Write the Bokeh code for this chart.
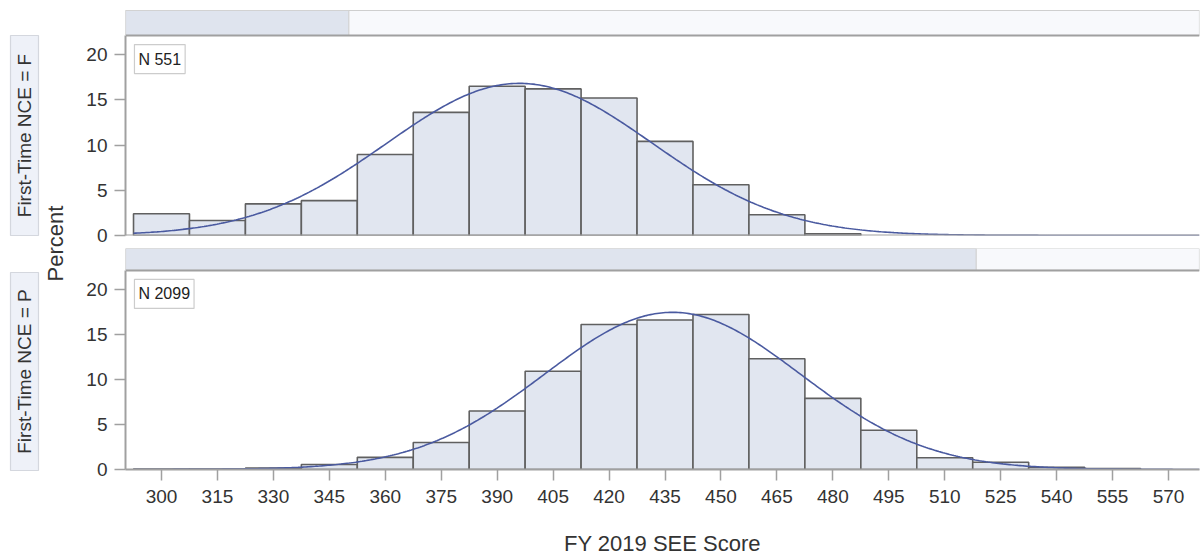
import numpy as np
from bokeh.plotting import figure
from bokeh.layouts import row, column
from bokeh.models import Range1d, FixedTicker, Label, BoxAnnotation, Span
from bokeh.embed import file_html
from bokeh.resources import INLINE
from bokeh.core.properties import value

# ---------------- data ----------------
bin_centers = [300, 315, 330, 345, 360, 375, 390, 405, 420, 435, 450, 465,
               480, 495, 510, 525, 540, 555, 570]
pct_F = [2.4, 1.65, 3.5, 3.85, 8.95, 13.6, 16.5, 16.2, 15.2, 10.4, 5.6, 2.3,
         0.2, 0, 0, 0, 0, 0, 0]
pct_P = [0.05, 0.05, 0.15, 0.55, 1.35, 3.0, 6.5, 10.9, 16.1, 16.6, 17.2, 12.3,
         7.9, 4.35, 1.3, 0.8, 0.25, 0.1, 0.0]
bin_width = 15
n_F, n_P = 551, 2099
mu_F, sd_F = 396.0, 35.6
mu_P, sd_P = 437.0, 34.3
row_labels = ["First-Time NCE = F", "First-Time NCE = P"]
inset_labels = ["N 551", "N 2099"]
x_ticks = list(range(300, 571, 15))
y_ticks = [0, 5, 10, 15, 20]
x_title = "FY 2019 SEE Score"
y_title = "Percent"

# ---------------- style / layout ----------------
FONT = "Liberation Sans"
W, H = 1200, 558
LEFT_W = 70
PW = W - LEFT_W
X0, X1 = 290.35, 578.3
PX_PER_UNIT = 9.05
PANEL_TOP = 22.1
BAR_FILL = "#e1e6f0"
BAR_LINE = "#606060"
CURVE = "#4a5aa0"
FRAME = "#a0a0a0"
TXT = "#333333"
total_n = n_F + n_P

# (height, border_top, frame_height, border_bottom) of each panel figure
P1_GEOM = (248, 9, 226, 13)
P2_GEOM = (310, 0, 222, 88)


def make_panel(pct, n, mu, sd, inset, first):
    height, btop, fh, bbot = P1_GEOM if first else P2_GEOM
    y_end = fh / PX_PER_UNIT
    header_top = y_end - (1.0 if first else 0.0) / PX_PER_UNIT
    p = figure(width=PW, height=height,
               x_range=Range1d(X0, X1), y_range=Range1d(0, y_end),
               output_backend="svg", toolbar_location=None, title=None,
               x_axis_location=None if first else "below",
               y_axis_location="left",
               min_border_left=55, min_border_right=1,
               min_border_top=btop, min_border_bottom=bbot,
               outline_line_color=None,
               background_fill_color="white", border_fill_color="white")
    p.grid.visible = False

    # bars
    c = np.array(bin_centers, dtype=float)
    v = np.array(pct, dtype=float)
    m = v > 0
    p.quad(left=c[m] - bin_width / 2, right=c[m] + bin_width / 2,
           bottom=0, top=v[m], fill_color=BAR_FILL, line_color=BAR_LINE,
           line_width=1.6)

    # normal density curve (percent per bin)
    xs = np.linspace(292.5, X1, 500)
    ys = 100 * bin_width * np.exp(-0.5 * ((xs - mu) / sd) ** 2) / (sd * np.sqrt(2 * np.pi))
    p.line(xs, ys, line_color=CURVE, line_width=1.6)

    # header proportion bar
    frac = n / total_n
    xf = X0 + frac * (X1 - X0)
    p.add_layout(BoxAnnotation(left=X0, right=X1, bottom=PANEL_TOP, top=header_top,
                               fill_color="#f8f9fc", fill_alpha=1,
                               line_color="#cfcfcf", line_alpha=1, line_width=1.2))
    p.add_layout(BoxAnnotation(left=X0, right=xf, bottom=PANEL_TOP, top=header_top,
                               fill_color="#dfe4ee", fill_alpha=1,
                               line_color="#d2d2d2", line_alpha=1, line_width=1.2))
    # panel frame lines
    p.add_layout(Span(location=PANEL_TOP, dimension="width", line_color=FRAME,
                      line_width=2))
    if first:
        p.add_layout(Span(location=0, dimension="width", line_color=FRAME,
                          line_width=2))

    # inset
    p.add_layout(Label(x=X0 + 2.4, y=21.1, text=inset, text_font=FONT,
                       text_font_size="16px", text_color="#222222",
                       text_align="left", text_baseline="top",
                       padding=(4, 6), border_line_color="#cccccc",
                       border_line_width=1.2,
                       background_fill_color="white"))

    ya = p.yaxis[0]
    ya.ticker = FixedTicker(ticks=y_ticks)
    ya.bounds = (0, PANEL_TOP)
    ya.axis_line_color = FRAME
    ya.axis_line_width = 2
    ya.major_tick_line_color = FRAME
    ya.major_tick_line_width = 1.5
    ya.major_tick_out = 11
    ya.major_tick_in = 0
    ya.minor_tick_out = 0
    ya.minor_tick_in = 0
    ya.major_label_text_font = FONT
    ya.major_label_text_font_size = "19px"
    ya.major_label_text_color = TXT
    ya.major_label_standoff = 7

    if not first:
        xa = p.xaxis[0]
        xa.ticker = FixedTicker(ticks=x_ticks)
        xa.axis_line_color = FRAME
        xa.axis_line_width = 2
        xa.major_tick_line_color = FRAME
        xa.major_tick_line_width = 1.5
        xa.major_tick_out = 11
        xa.major_tick_in = 0
        xa.minor_tick_out = 0
        xa.minor_tick_in = 0
        xa.major_label_text_font = FONT
        xa.major_label_text_font_size = "19px"
        xa.major_label_text_color = TXT
        xa.major_label_standoff = 9
        xa.axis_label = x_title
        xa.axis_label_text_font = FONT
        xa.axis_label_text_font_size = "22px"
        xa.axis_label_text_font_style = "normal"
        xa.axis_label_text_color = TXT
        xa.axis_label_standoff = 25
    return p


p1 = make_panel(pct_F, n_F, mu_F, sd_F, inset_labels[0], True)
p2 = make_panel(pct_P, n_P, mu_P, sd_P, inset_labels[1], False)

# left strip: row labels and shared y title
lf = figure(width=LEFT_W, height=H, x_range=Range1d(0, LEFT_W), y_range=Range1d(0, H),
            output_backend="svg", toolbar_location=None, title=None,
            x_axis_location=None, y_axis_location=None, min_border=0,
            outline_line_color=None, background_fill_color="white",
            border_fill_color="white")
lf.grid.visible = False
lf.quad(left=[10, 10], right=[38, 38], top=[H - 35, H - 272], bottom=[H - 235, H - 470],
        fill_color="#eef1f8", line_color="#d4d7de", line_width=1.2)
lf.text(x=[24, 24], y=[H - 135, H - 371], text=row_labels, angle=np.pi / 2,
        text_align="center", text_baseline="middle", text_font=value(FONT),
        text_font_size="19px", text_color=TXT)
lf.text(x=[55], y=[H - 243], text=[y_title], angle=np.pi / 2,
        text_align="center", text_baseline="middle", text_font=value(FONT),
        text_font_size="22px", text_color=TXT)

layout = row(lf, column(p1, p2))
open("out.html", "w").write(file_html(layout, INLINE))
